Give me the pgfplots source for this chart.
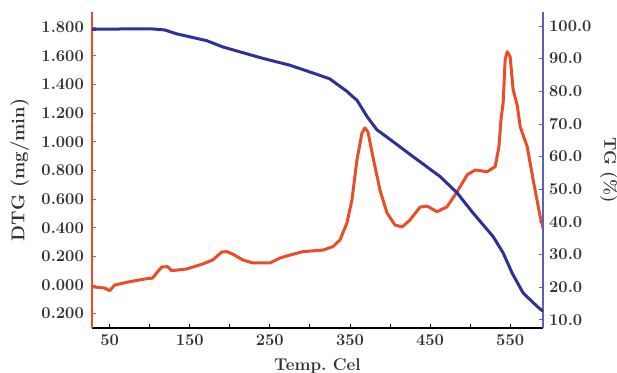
\documentclass[border=0pt]{standalone}
\usepackage{pgfplots}
\pgfplotsset{compat=1.18}
\usetikzlibrary{calc}
\definecolor{dtgred}{RGB}{232,78,40}
\definecolor{tgblue}{RGB}{48,48,150}
\definecolor{tgaxis}{RGB}{95,95,180}
\definecolor{txt}{RGB}{50,50,50}
\begin{document}
\begin{tikzpicture}
\pgfplotsset{
  myaxis/.style={
    scale only axis, width=451pt, height=316pt,
    xmin=28, xmax=591,
    tick label style={font=\fontsize{16.5}{19}\selectfont\bfseries, text=txt},
    label style={font=\fontsize{17}{20}\selectfont\bfseries, text=txt},
    tick align=inside, major tick length=4pt, minor tick length=4pt,
  }
}
\begin{axis}[myaxis,
  ymin=-0.300, ymax=1.906,
  axis x line*=bottom, axis y line*=left,
  x axis line style={black, line width=1.6pt, -},
  y axis line style={dtgred, line width=1.6pt, -},
  xtick={50,150,250,350,450,550},
  xticklabels={50,150,250,350,450,550},
  minor xtick={100,200,300,400,500},
  x tick style={black, line width=0.8pt},
  ytick={-0.2,0,0.2,0.4,0.6,0.8,1.0,1.2,1.4,1.6,1.8},
  yticklabels={0.200,0.000,0.200,0.400,0.600,0.800,1.000,1.200,1.400,1.600,1.800},
  y tick style={dtgred, line width=0.8pt},
  xlabel={Temp.\ Cel},
  ylabel={DTG (mg/min)},
  yticklabel style={inner sep=0pt, xshift=-8pt},
  xticklabel style={inner sep=0pt, yshift=-6pt},
  xlabel shift=10pt,
  ylabel shift=9pt,
  ylabel style={font=\fontsize{18.5}{20}\selectfont\bfseries},
]
\coordinate (sw) at (rel axis cs:0,0);
\coordinate (ne) at (rel axis cs:1,1);
\addplot[dtgred, line width=3pt, line join=round] coordinates {
(28,-0.012) (43.75,-0.021) (50,-0.040) (56.25,0.000) (75,0.023) (93.75,0.042)
(103.75,0.049) (108.75,0.085) (115,0.126) (122.5,0.128) (127.5,0.100) (146.25,0.112)
(166.25,0.147) (178.75,0.175) (190,0.230) (196.25,0.233) (203.75,0.216) (216.25,0.175)
(228.75,0.154) (250,0.154) (262.5,0.188) (275,0.209) (291.25,0.233) (316.25,0.244)
(328.75,0.268) (337.5,0.314) (346.25,0.433) (352.5,0.594) (358.75,0.873) (365,1.061)
(368.75,1.097) (372.5,1.068) (378.75,0.893) (387.5,0.663) (396.25,0.503) (406.25,0.419)
(415,0.405) (425,0.454) (437.5,0.544) (446.25,0.551) (458.75,0.512) (471.25,0.546)
(483.75,0.651) (496.25,0.768) (506.25,0.803) (521.25,0.791) (531.25,0.826) (536,0.966)
(538.75,1.166) (541.25,1.271) (543.75,1.572) (546.25,1.629) (550,1.594) (553.75,1.361)
(558.75,1.257) (562.5,1.106) (571.25,0.966) (578.75,0.733) (587.5,0.477) (591,0.397)
};
\end{axis}
\begin{axis}[myaxis,
  ymin=7.5, ymax=104.3,
  axis x line=none, axis y line*=right,
  y axis line style={tgaxis, line width=1.6pt, -},
  ytick={10,20,30,40,50,60,70,80,90,100},
  yticklabels={10.0,20.0,30.0,40.0,50.0,60.0,70.0,80.0,90.0,100.0},
  y tick style={tgaxis, line width=0.8pt},
  ylabel={TG (\%)},
  ylabel style={rotate=180},
  ylabel shift=5pt,
  yticklabel style={inner sep=0pt, xshift=6pt},
]
\addplot[tgblue, line width=3pt, line join=round] coordinates {
(28,99.0) (66.25,99.1) (103.75,99.1) (118.75,98.8) (133.75,97.6) (150,96.7)
(171.25,95.5) (191.25,93.6) (212.5,92.1) (241.25,90.1) (275,88.0) (308.75,85.2)
(325,83.8) (333.75,82.2) (346.25,80.0) (353.75,78.3) (358.75,77.3) (371.25,72.3)
(383.75,68.2) (403.75,64.6) (428.75,60.0) (462.5,53.9) (483.75,48.9) (503.75,42.7)
(528.75,35.5) (541.25,30.5) (552.5,24.3) (566.25,18.2) (583.75,14.1) (591,12.6)
};
\end{axis}
\pgfresetboundingbox
\useasboundingbox ($(sw)+(-92pt,-45pt)$) rectangle ($(ne)+(74pt,12pt)$);
\end{tikzpicture}
\end{document}
